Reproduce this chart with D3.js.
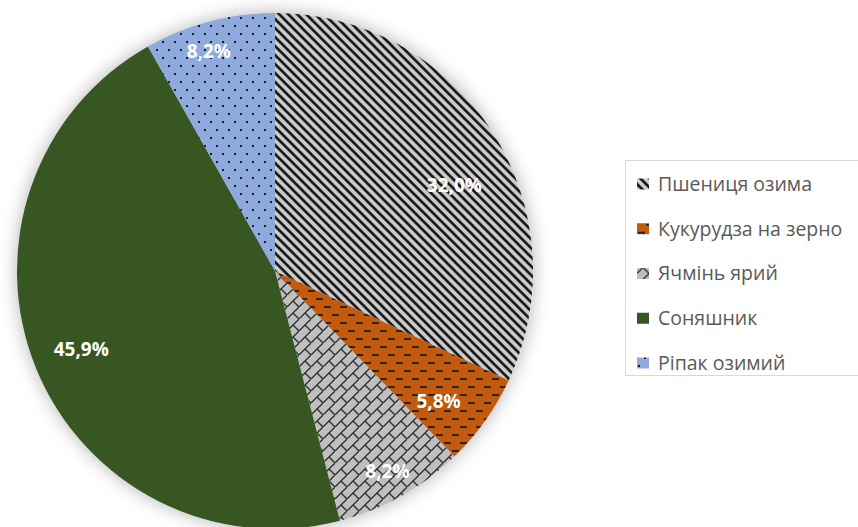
<!DOCTYPE html>
<html>
<head>
<meta charset="utf-8">
<script src="https://cdn.jsdelivr.net/npm/d3@7"></script>
<style>
  html, body { margin: 0; padding: 0; background: #fff; }
  svg { display: block; }
</style>
</head>
<body>
<div id="chart"></div>
<script>
(function () {
  "use strict";

  // data
  const categories = ["Пшениця озима", "Кукурудза на зерно", "Ячмінь ярий", "Соняшник", "Ріпак озимий"];
  const shares = [32.0, 5.8, 8.2, 45.9, 8.2];
  const labels = ["32,0%", "5,8%", "8,2%", "45,9%", "8,2%"];

  // look
  const fills = ["#cccccc", "#c55a11", "#bfbfbf", "#375623", "#8faadc"];
  const patternIds = ["pWheat", "pCorn", "pBarley", null, "pRape"];
  // label placement (fraction of radius, small angle nudge in degrees), like Excel best fit
  const labelRadius = [0.77, 0.81, 0.89, 0.81, 0.89];
  const labelNudge = [7, 3, 0, 0, -2];

  const width = 858;
  const height = 527;
  const cx = 275;
  const cy = 271;
  const radius = 258;

  const svg = d3.select("#chart")
    .append("svg")
    .attr("width", width)
    .attr("height", height)
    .attr("viewBox", `0 0 ${width} ${height}`);

  const defs = svg.append("defs");

  const shadow = defs.append("filter")
    .attr("id", "pieShadow")
    .attr("x", "-20%").attr("y", "-20%")
    .attr("width", "140%").attr("height", "140%");
  shadow.append("feDropShadow")
    .attr("dx", 0).attr("dy", 0)
    .attr("stdDeviation", 9)
    .attr("flood-color", "#000")
    .attr("flood-opacity", 0.3);

  // wide downward diagonal stripes
  const pw = defs.append("pattern")
    .attr("id", "pWheat").attr("patternUnits", "userSpaceOnUse")
    .attr("width", 9).attr("height", 9);
  pw.append("rect").attr("width", 9).attr("height", 9).attr("fill", fills[0]);
  pw.append("path")
    .attr("d", "M-2,-2 L11,11 M-2,7 L2,11 M7,-2 L11,2")
    .attr("stroke", "#1a1a1a").attr("stroke-width", 2.7);

  // dashed horizontal
  const pc = defs.append("pattern")
    .attr("id", "pCorn").attr("patternUnits", "userSpaceOnUse")
    .attr("width", 16).attr("height", 16);
  pc.append("rect").attr("width", 16).attr("height", 16).attr("fill", fills[1]);
  pc.append("rect").attr("x", 1).attr("y", 3).attr("width", 7).attr("height", 2).attr("fill", "#262626");
  pc.append("rect").attr("x", 9).attr("y", 11).attr("width", 7).attr("height", 2).attr("fill", "#262626");

  // diagonal brick
  const pb = defs.append("pattern")
    .attr("id", "pBarley").attr("patternUnits", "userSpaceOnUse")
    .attr("width", 12).attr("height", 12);
  pb.append("rect").attr("width", 12).attr("height", 12).attr("fill", fills[2]);
  pb.append("path")
    .attr("d", "M-1,13 L13,-1 M6,6 L12,12")
    .attr("stroke", "#2a2a2a").attr("stroke-width", 1.3).attr("fill", "none");

  // dotted
  const pr = defs.append("pattern")
    .attr("id", "pRape").attr("patternUnits", "userSpaceOnUse")
    .attr("width", 12).attr("height", 16);
  pr.append("rect").attr("width", 12).attr("height", 16).attr("fill", fills[4]);
  pr.append("rect").attr("x", 1).attr("y", 2).attr("width", 2).attr("height", 2).attr("fill", "#1a1a1a");
  pr.append("rect").attr("x", 7).attr("y", 10).attr("width", 2).attr("height", 2).attr("fill", "#1a1a1a");

  function fillFor(i) {
    return patternIds[i] ? `url(#${patternIds[i]})` : fills[i];
  }

  const pie = d3.pie().sort(null).value((d) => d)(shares);
  const arc = d3.arc().innerRadius(0).outerRadius(radius);

  const g = svg.append("g").attr("transform", `translate(${cx},${cy})`);

  g.append("g")
    .attr("filter", "url(#pieShadow)")
    .selectAll("path")
    .data(pie)
    .join("path")
    .attr("d", arc)
    .attr("fill", (d, i) => fillFor(i));

  g.selectAll("text.label")
    .data(pie)
    .join("text")
    .attr("class", "label")
    .attr("transform", (d, i) => {
      const a = (d.startAngle + d.endAngle) / 2 + (labelNudge[i] * Math.PI) / 180;
      const r = radius * labelRadius[i];
      return `translate(${r * Math.sin(a)},${-r * Math.cos(a)})`;
    })
    .attr("text-anchor", "middle")
    .attr("dy", "0.35em")
    .attr("fill", "#ffffff")
    .attr("font-family", "'Open Sans', 'Liberation Sans', sans-serif")
    .attr("font-weight", "bold")
    .attr("font-size", 19)
    .text((d, i) => labels[i]);

  // legend
  const legendX = 625;
  const legendY = 160;
  const legend = svg.append("g");
  legend.append("rect")
    .attr("x", legendX + 0.5).attr("y", legendY + 0.5)
    .attr("width", 300).attr("height", 215)
    .attr("fill", "#fff")
    .attr("stroke", "#d9d9d9");

  const rowY = d3.scalePoint()
    .domain(categories)
    .range([184, 363]);

  const items = legend.selectAll("g.item")
    .data(categories)
    .join("g")
    .attr("class", "item")
    .attr("transform", (d) => `translate(${legendX + 12},${rowY(d)})`);

  items.append("rect")
    .attr("x", 0).attr("y", -5.5)
    .attr("width", 12).attr("height", 11)
    .attr("fill", (d, i) => fillFor(i));

  items.append("text")
    .attr("x", 21)
    .attr("dy", "0.35em")
    .attr("fill", "#595959")
    .attr("font-family", "'Open Sans', 'Noto Sans', sans-serif")
    .attr("font-size", 19.5)
    .text((d) => d);
})();
</script>
</body>
</html>
